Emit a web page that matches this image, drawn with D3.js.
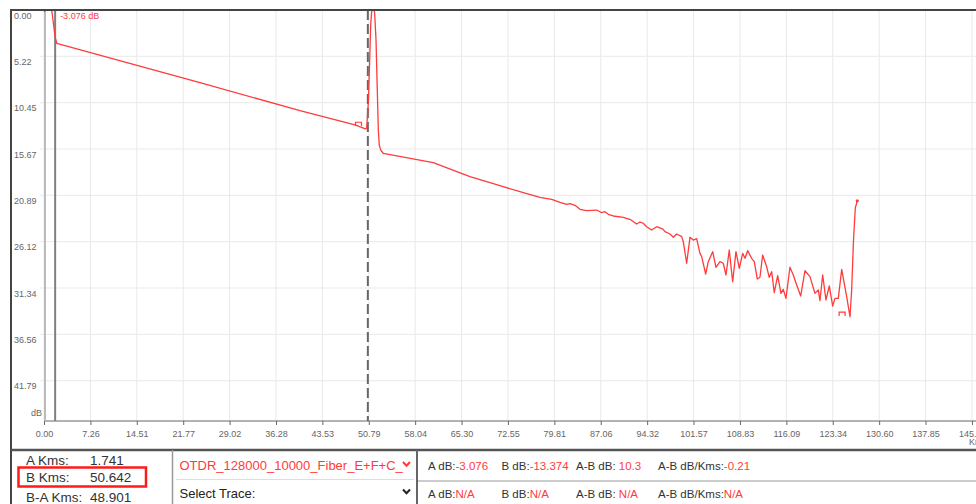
<!DOCTYPE html>
<html>
<head>
<meta charset="utf-8">
<script src="https://cdn.jsdelivr.net/npm/d3@7"></script>
<style>
  html, body { margin: 0; padding: 0; background: #fff; overflow: hidden; }
  svg { display: block; font-family: "Liberation Sans", Arial, sans-serif; }
  .tick text { fill: #666; font-size: 9px; }
</style>
</head>
<body>
<div id="chart"></div>
<script>
// trace data (km, dB)
const traceKm = [0, 0.31, 0.63, 1.09, 1.25, 1.741, 1.99, 24.39, 40.03, 48.63, 50.27, 50.46,
  50.74, 50.93, 51.09, 51.22, 51.35, 51.49, 51.62, 51.71, 51.92, 52.12, 52.28, 52.43, 52.58, 52.70, 53.06,
  60.87, 66.61, 71.82, 74.95, 77.56, 79.39, 80.69, 81.73, 82.25, 83.03, 83.82, 84.86,
  86.43, 87.21, 87.72, 88.24, 89.02, 90.59, 91.63, 92.68, 93.20, 93.71, 94.24, 95.03,
  95.81, 96.79, 97.11, 97.89, 98.41, 98.94, 99.72, 99.97, 100.50, 101.02, 101.53, 102.06,
  102.58, 102.85, 103.47, 103.88, 104.57, 105.08, 105.71, 106.22, 106.65, 107.16, 107.69,
  108.21, 108.73, 109.26, 109.62, 110.04, 110.66, 111.07, 111.54, 111.96, 112.38, 113.01,
  113.41, 113.79, 114.20, 114.73, 115.25, 115.61, 116.03, 116.65, 117.17, 117.70, 118.33,
  119.00, 119.78, 120.56, 121.08, 121.34, 121.77, 122.28, 122.80, 123.33, 123.69, 124.21,
  124.74, 125.52, 126.04, 126.30, 126.59, 126.87, 127.18];
const traceDb = [-0.23, 0.06, 0.17, 0.06, -0.23, -3.076, -3.75, -8.19, -11.35, -12.94, -13.41, -13.30,
  -10.14, -5.64, -1.69, -0.3, 0.15, 0.23, 0.1, -0.4, -3.38, -9.02, -13.53, -15.22, -15.6, -15.84, -16.15,
  -17.21, -18.79, -19.92, -20.59, -21.11, -21.34, -21.68, -21.90, -21.83, -22.02, -22.47, -22.62,
  -22.55, -22.85, -22.74, -23.03, -23.22, -23.37, -23.59, -24.12, -23.90, -24.04, -24.43, -24.80,
  -24.43, -24.69, -24.99, -25.25, -25.62, -25.25, -25.55, -26.12, -28.55, -25.62, -25.93, -25.78,
  -27.43, -27.81, -29.76, -28.37, -27.24, -29.00, -28.37, -28.55, -29.87, -27.05, -30.63,
  -27.24, -29.12, -27.43, -27.99, -27.13, -27.99, -28.37, -30.32, -30.13, -27.62, -28.94,
  -30.13, -29.50, -31.87, -29.95, -31.94, -31.49, -32.50, -29.00, -29.87, -31.00, -32.24,
  -29.39, -30.06, -31.94, -31.56, -32.77, -29.87, -32.69, -31.11, -33.37, -32.50, -32.50,
  -29.23, -32.32, -34.57, -31.60, -25.93, -22.32, -21.50];

// event markers on the trace
const eventKm = [49.18, 124.81];
const eventDb = [-13.08, -34.49];

// cursors
const cursorA = 1.741;
const cursorB = 50.642;
const cursorALabel = '-3.076 dB';

const xTickLabels = ['0.00', '7.26', '14.51', '21.77', '29.02', '36.28', '43.53', '50.79', '58.04',
  '65.30', '72.55', '79.81', '87.06', '94.32', '101.57', '108.83', '116.09', '123.34', '130.60',
  '137.85', '145.11'];
const yTickLabels = ['0.00', '5.22', '10.45', '15.67', '20.89', '26.12', '31.34', '36.56', '41.79'];

// readouts under the chart
const kmLabels = ['A Kms:', 'B Kms:', 'B-A Kms:'];
const kmValues = ['1.741', '50.642', '48.901'];
const traceNames = ['OTDR_128000_10000_Fiber_E+F+C_', 'Select Trace:'];
const dbLabels = ['A dB:', 'B dB:', 'A-B dB: ', 'A-B dB/Kms:'];
const dbRow1 = ['-3.076', '-13.374', '10.3', '-0.21'];
const dbRow2 = ['N/A', 'N/A', 'N/A', 'N/A'];

const W = 976, H = 504;
const red = '#ff3b3b';

const svg = d3.select('#chart').append('svg').attr('width', W).attr('height', H);

const x = d3.scaleLinear().domain([0, 152.36]).range([44, 1018.3]);
const y = d3.scaleLinear().domain([0, -46.33]).range([10, 421]);

svg.append('clipPath').attr('id', 'plotclip')
  .append('rect').attr('x', 44).attr('y', 10).attr('width', W - 44).attr('height', 411);

// grid
const xTicks = xTickLabels.map(Number);
const yTicks = yTickLabels.map(d => -Number(d));

svg.append('g').selectAll('line').data(xTicks).join('line')
  .attr('x1', d => x(d)).attr('x2', d => x(d))
  .attr('y1', y(0)).attr('y2', y.range()[1])
  .attr('stroke', '#e9e9e9');

svg.append('g').selectAll('line').data(yTicks).join('line')
  .attr('x1', 40).attr('x2', W)
  .attr('y1', d => y(d)).attr('y2', d => y(d))
  .attr('stroke', '#e9e9e9');

// y labels sit just below their grid line
svg.append('g').selectAll('text').data(yTicks).join('text')
  .attr('x', 14).attr('y', d => y(d) + 8.5)
  .attr('fill', '#666').attr('font-size', 9)
  .text((d, i) => yTickLabels[i]);
svg.append('text').attr('x', 31).attr('y', 416)
  .attr('fill', '#666').attr('font-size', 9).text('dB');

// x axis
const xAxis = d3.axisBottom(x).tickValues(xTicks).tickSize(4).tickFormat((d, i) => xTickLabels[i]);
const gx = svg.append('g').attr('transform', 'translate(0,421)').call(xAxis);
gx.select('.domain').attr('stroke', '#666').attr('d', 'M44,0H' + W);
gx.selectAll('.tick line').attr('stroke', '#666');
gx.selectAll('.tick text').attr('dy', '0.95em');
svg.append('text').attr('x', 969).attr('y', 445)
  .attr('fill', '#666').attr('font-size', 9).text('Kms');

// y axis line
svg.append('line').attr('x1', 45).attr('x2', 45).attr('y1', 10).attr('y2', 421)
  .attr('stroke', '#bbb').attr('stroke-width', 2);

// cursors
svg.append('line').attr('x1', x(cursorA)).attr('x2', x(cursorA)).attr('y1', 10).attr('y2', 421)
  .attr('stroke', '#808080').attr('stroke-width', 2);
svg.append('line').attr('x1', x(cursorB)).attr('x2', x(cursorB)).attr('y1', 10).attr('y2', 421)
  .attr('stroke', '#666').attr('stroke-width', 2).attr('stroke-dasharray', '10,4');

// trace
const pts = traceKm.map((k, i) => [k, traceDb[i]]);
const line = d3.line().x(d => x(d[0])).y(d => y(d[1]));
const plot = svg.append('g').attr('clip-path', 'url(#plotclip)');
plot.append('path').datum(pts)
  .attr('d', line).attr('fill', 'none')
  .attr('stroke', red).attr('stroke-width', 1.3).attr('stroke-linejoin', 'round');

plot.selectAll('path.ev').data(eventKm).join('path').attr('class', 'ev')
  .attr('d', (d, i) => {
    const cx = x(d), cy = y(eventDb[i]);
    return 'M' + (cx - 3) + ',' + cy + 'V' + (cy - 3.8) + 'H' + (cx + 3) + 'V' + cy;
  })
  .attr('fill', 'none').attr('stroke', red).attr('stroke-width', 1.2);

const last = pts[pts.length - 1];
plot.append('circle').attr('cx', x(last[0])).attr('cy', y(last[1])).attr('r', 1.6).attr('fill', red);

svg.append('text').attr('x', x(cursorA) + 5).attr('y', 18.5)
  .attr('fill', red).attr('font-size', 9).text(cursorALabel);

// frame
svg.append('path').attr('d', 'M11,504V10H' + W)
  .attr('fill', 'none').attr('stroke', '#444').attr('stroke-width', 2);

// bottom panel
const panel = svg.append('g');
panel.append('line').attr('x1', 11).attr('x2', W).attr('y1', 450).attr('y2', 450)
  .attr('stroke', '#555').attr('stroke-width', 2.5);
panel.append('line').attr('x1', 172.5).attr('x2', 172.5).attr('y1', 450).attr('y2', H)
  .attr('stroke', '#999').attr('stroke-width', 1.5);
panel.append('line').attr('x1', 417).attr('x2', 417).attr('y1', 450).attr('y2', H)
  .attr('stroke', '#666').attr('stroke-width', 2);
panel.append('line').attr('x1', 176).attr('x2', 414).attr('y1', 479.5).attr('y2', 479.5)
  .attr('stroke', '#ddd').attr('stroke-width', 1);
panel.append('line').attr('x1', 418).attr('x2', W).attr('y1', 481).attr('y2', 481)
  .attr('stroke', '#bbb').attr('stroke-width', 1.5);

const rowY = [465, 482, 502];
panel.selectAll('text.kl').data(kmLabels).join('text').attr('class', 'kl')
  .attr('x', 26).attr('y', (d, i) => rowY[i])
  .attr('font-size', 13.5).attr('fill', '#333').text(d => d);
panel.selectAll('text.kv').data(kmValues).join('text').attr('class', 'kv')
  .attr('x', 90).attr('y', (d, i) => rowY[i])
  .attr('font-size', 13.5).attr('fill', '#333').text(d => d);
panel.append('rect').attr('x', 18.5).attr('y', 467.5).attr('width', 127.5).attr('height', 19)
  .attr('fill', 'none').attr('stroke', '#ff1a1a').attr('stroke-width', 2.5);

const selY = [470, 497.5];
const selColor = [red, '#222'];
panel.selectAll('text.sel').data(traceNames).join('text').attr('class', 'sel')
  .attr('x', 179.5).attr('y', (d, i) => selY[i])
  .attr('font-size', 13).attr('fill', (d, i) => selColor[i]).text(d => d);
panel.selectAll('path.chev').data(selY).join('path').attr('class', 'chev')
  .attr('d', (d, i) => {
    const cx = 406.5, cy = d - 6;
    return 'M' + (cx - 3.5) + ',' + (cy - 2) + 'L' + cx + ',' + (cy + 1.8) + 'L' + (cx + 3.5) + ',' + (cy - 2);
  })
  .attr('fill', 'none').attr('stroke', (d, i) => selColor[i]).attr('stroke-width', 2);

const colX = [428, 501.5, 576, 658];
const dbY = [470, 498];
[dbRow1, dbRow2].forEach((row, r) => {
  const t = panel.selectAll('text.db' + r).data(dbLabels).join('text').attr('class', 'db' + r)
    .attr('x', (d, i) => colX[i]).attr('y', dbY[r]).attr('font-size', 11.5);
  t.append('tspan').attr('fill', '#333').text(d => d);
  t.append('tspan').attr('fill', red).text((d, i) => row[i]);
});
</script>
</body>
</html>
